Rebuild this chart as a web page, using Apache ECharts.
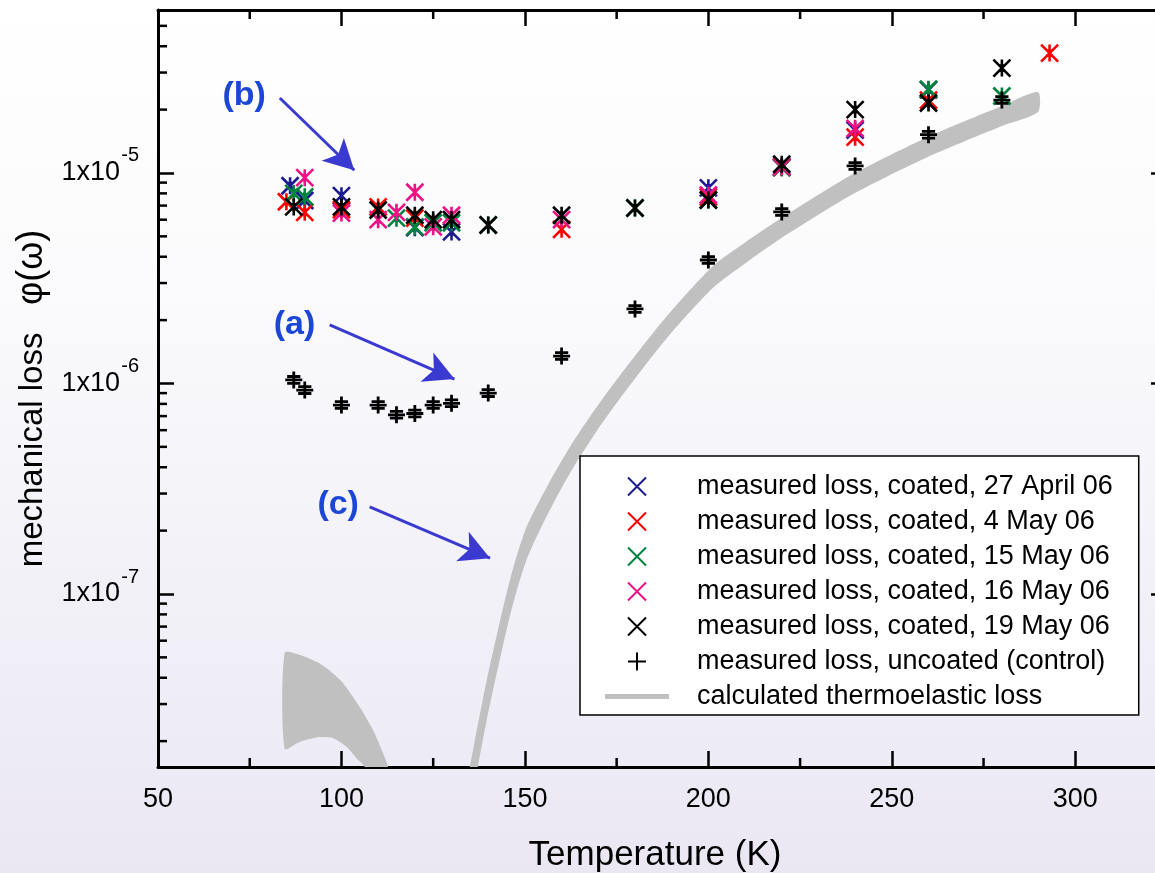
<!DOCTYPE html>
<html>
<head>
<meta charset="utf-8">
<title>Mechanical loss vs temperature</title>
<script src="https://cdn.jsdelivr.net/npm/echarts@6/dist/echarts.min.js"></script>
<style>
  html, body { margin: 0; padding: 0; }
  #chart { width: 1155px; height: 873px; }
</style>
</head>
<body>
<div id="chart"></div>
<script>
var FONT = '"Liberation Sans", Arial, Helvetica, sans-serif';

// measured loss, coated samples: [temperature K, loss]
var coated27Apr = [[86, 8.7e-6], [90, 7.4e-6], [100, 7.8e-6], [120, 5.5e-6], [130, 5.25e-6],
    [200, 8.5e-6], [220, 1.07e-5], [240, 1.6e-5], [260, 2.48e-5]];
var coated4May = [[85, 7.3e-6], [90, 6.5e-6], [100, 6.7e-6], [110, 6.9e-6], [120, 6.1e-6],
    [160, 5.4e-6], [200, 7.7e-6], [220, 1.06e-5], [240, 1.48e-5], [260, 2.22e-5], [293, 3.71e-5]];
var coated15May = [[87, 8.0e-6], [90, 7.7e-6], [115, 6.1e-6], [120, 5.55e-6], [125, 5.8e-6],
    [130, 5.8e-6], [140, 5.66e-6], [180, 6.82e-6], [200, 7.44e-6], [220, 1.06e-5], [260, 2.5e-5], [280, 2.32e-5]];
var coated16May = [[90, 9.5e-6], [100, 6.45e-6], [110, 6.0e-6], [115, 6.5e-6], [120, 8.1e-6],
    [125, 5.55e-6], [130, 6.3e-6], [160, 6.0e-6], [200, 7.86e-6], [220, 1.07e-5], [240, 1.63e-5]];
var coated19May = [[87, 6.9e-6], [100, 6.9e-6], [110, 6.67e-6], [120, 6.3e-6], [125, 6.0e-6],
    [130, 6.0e-6], [140, 5.66e-6], [160, 6.3e-6], [180, 6.82e-6], [200, 7.44e-6], [220, 1.1e-5],
    [240, 2.0e-5], [260, 2.15e-5], [280, 3.15e-5]];
// measured loss, uncoated control
var uncoated = [[87, 1.04e-6], [90, 9.3e-7], [100, 7.9e-7], [110, 7.9e-7], [115, 7.1e-7], [120, 7.2e-7],
    [125, 7.9e-7], [130, 8.05e-7], [140, 9.0e-7], [160, 1.35e-6], [180, 2.26e-6], [200, 3.86e-6],
    [220, 6.53e-6], [240, 1.08e-5], [260, 1.52e-5], [280, 2.22e-5]];

// calculated thermoelastic loss band (upper / lower bound)
var teT    = [134.5, 136.1, 139.6, 142.6, 146.2, 150.3, 156.2, 162.3, 169.4, 175.9, 188.7, 201.2,
    210, 219.9, 227.7, 239.9, 259.8, 280, 289.8];
var teHigh = [1.32e-8, 1.9e-8, 3.9e-8, 6.67e-8, 1.217e-7, 2.05e-7, 3.28e-7, 5.0e-7, 7.66e-7, 1.091e-6,
    2.09e-6, 3.61e-6, 4.68e-6, 6.11e-6, 7.44e-6, 9.99e-6, 1.484e-5, 2.082e-5, 2.424e-5];
var teLow  = [8.3e-9, 1.2e-8, 2.52e-8, 4.41e-8, 8.21e-8, 1.43e-7, 2.39e-7, 3.76e-7, 5.89e-7, 8.48e-7,
    1.644e-6, 2.84e-6, 3.72e-6, 4.91e-6, 5.98e-6, 8.03e-6, 1.192e-5, 1.673e-5, 1.948e-5];
// low temperature part of the band
var teLeftHighT = [84.5, 88.5, 93.3, 97, 100.4, 105.0, 108.6, 111.3, 112.7, 114.5];
var teLeftHigh  = [5.25e-8, 5.15e-8, 4.75e-8, 4.3e-8, 3.78e-8, 2.9e-8, 2.26e-8, 1.76e-8, 1.51e-8, 1.0e-8];
var teLeftLowT  = [84.5, 88.6, 94.1, 97.6, 101.4, 104.1, 106.3, 108];
var teLeftLow   = [1.84e-8, 1.98e-8, 2.09e-8, 2.07e-8, 1.88e-8, 1.66e-8, 1.51e-8, 1.1e-8];

// labels with arrows: text position, arrow start, arrow end
var noteText  = ['(b)', '(a)', '(c)'];
var notePos   = [[73.5, 2.33e-5], [87.2, 1.9e-6], [99.1, 2.65e-7]];
var noteFrom  = [[83.2, 2.27e-5], [96.8, 1.9e-6], [107.7, 2.59e-7]];
var noteTo    = [[103.5, 1.03e-5], [130.8, 1.05e-6], [140.5, 1.48e-7]];

var xMin = 50, xMax = 325, yMin = 1.507e-8, yMax = 5.946e-5;
var xMinorTicks = [75, 125, 175, 225, 275];
var yMinorTicks = [];
[1e-8, 1e-7, 1e-6, 1e-5].forEach(function (d) {
    for (var k = 2; k <= 9; k++) {
        var v = d * k;
        if (v > yMin && v < yMax) yMinorTicks.push(v);
    }
});

var starPath = 'path://M0,0L20,20M20,0L0,20M10,0L10,20M6,7L14,7M6,13L14,13';
var plusPath = 'path://M10,0L10,20M1,10L19,10M3,6L17,6M3,14L17,14';
var crossIcon = 'path://M0,0L20,20M20,0L0,20';
var plusIcon = 'path://M10,0L10,20M0,10L20,10';
var lineIcon = 'path://M0,0L64,0L64,5L0,5Z';

var coatedNames = [
    'measured loss, coated, 27 April 06',
    'measured loss, coated, 4 May 06',
    'measured loss, coated, 15 May 06',
    'measured loss, coated, 16 May 06',
    'measured loss, coated, 19 May 06'
];
var coatedData = [coated27Apr, coated4May, coated15May, coated16May, coated19May];
var coatedColors = ['#1b1b8f', '#ff0000', '#00843d', '#ec1185', '#000000'];
var uncoatedName = 'measured loss, uncoated (control)';
var teName = 'calculated thermoelastic loss';

var myChart = echarts.init(document.getElementById('chart'));

var series = [];

var bands = [
    { hT: teT, h: teHigh, lT: teT, l: teLow },
    { hT: teLeftHighT, h: teLeftHigh, lT: teLeftLowT, l: teLeftLow }
];
series.push({
    name: teName,
    type: 'custom',
    clip: true,
    silent: true,
    z: 1,
    data: [[teT[0], teHigh[0]], [teLeftHighT[0], teLeftHigh[0]]],
    renderItem: function (params, api) {
        var b = bands[params.dataIndex];
        var pts = [];
        for (var i = 0; i < b.hT.length; i++) pts.push(api.coord([b.hT[i], b.h[i]]));
        for (var j = b.lT.length - 1; j >= 0; j--) pts.push(api.coord([b.lT[j], b.l[j]]));
        return {
            type: 'polygon',
            shape: { points: pts, smooth: 0.25 },
            style: { fill: '#c0c0c0' },
            clipPath: {
                type: 'rect',
                shape: { x: params.coordSys.x, y: params.coordSys.y,
                         width: params.coordSys.width, height: params.coordSys.height }
            }
        };
    }
});

coatedData.forEach(function (d, i) {
    series.push({
        name: coatedNames[i],
        type: 'scatter',
        symbol: starPath,
        symbolSize: 17,
        z: 3,
        itemStyle: { color: 'rgba(0,0,0,0)', borderColor: coatedColors[i], borderWidth: 2.6, opacity: 1 },
        emphasis: { disabled: true },
        data: d
    });
});

series.push({
    name: uncoatedName,
    type: 'scatter',
    symbol: plusPath,
    symbolSize: 17,
    z: 4,
    itemStyle: { color: 'rgba(0,0,0,0)', borderColor: '#000', borderWidth: 2.8, opacity: 1 },
    emphasis: { disabled: true },
    data: uncoated
});

// annotations (a), (b), (c)
series.push({
    name: 'notes',
    type: 'scatter',
    symbolSize: 1,
    silent: true,
    z: 5,
    itemStyle: { color: 'rgba(0,0,0,0)', opacity: 1 },
    label: {
        show: true, position: 'inside', formatter: '{b}',
        fontFamily: FONT, fontSize: 34, fontWeight: 'bold', color: '#1b46d6'
    },
    data: noteText.map(function (t, i) { return { name: t, value: notePos[i] }; }),
    markLine: {
        silent: true,
        symbol: ['none', 'arrow'],
        symbolSize: [24, 30],
        label: { show: false },
        lineStyle: { color: '#3a3ad0', width: 3, type: 'solid', opacity: 1 },
        emphasis: { disabled: true },
        data: noteFrom.map(function (f, i) { return [{ coord: f }, { coord: noteTo[i] }]; })
    }
});

// minor ticks of the log axis (left) and of the temperature axis (bottom / top)
series.push({
    type: 'custom', silent: true, z: 6,
    data: yMinorTicks.map(function (v) { return [xMin, v]; }),
    renderItem: function (params, api) {
        var p = api.coord([xMin, api.value(1)]);
        return { type: 'line', shape: { x1: p[0], y1: p[1], x2: p[0] + 9, y2: p[1] },
                 style: { stroke: '#000', lineWidth: 2.5 } };
    }
});
series.push({
    type: 'custom', silent: true, z: 6,
    data: xMinorTicks.map(function (t) { return [t, yMin]; }),
    renderItem: function (params, api) {
        var b = api.coord([api.value(0), yMin]);
        var t = api.coord([api.value(0), yMax]);
        return { type: 'group', children: [
            { type: 'line', shape: { x1: b[0], y1: b[1], x2: b[0], y2: b[1] - 9 }, style: { stroke: '#000', lineWidth: 2.5 } },
            { type: 'line', shape: { x1: t[0], y1: t[1], x2: t[0], y2: t[1] + 9 }, style: { stroke: '#000', lineWidth: 2.5 } }
        ] };
    }
});

var legendData = coatedNames.map(function (n, i) {
    return { name: n, icon: crossIcon,
             itemStyle: { color: 'rgba(0,0,0,0)', borderColor: coatedColors[i], borderWidth: 2, opacity: 1 } };
});
legendData.push({ name: uncoatedName, icon: plusIcon,
                  itemStyle: { color: 'rgba(0,0,0,0)', borderColor: '#000', borderWidth: 2, opacity: 1 } });
legendData.push({ name: teName, icon: lineIcon, itemStyle: { color: '#c0c0c0', borderWidth: 0, opacity: 1 } });

var axisLineStyle = { color: '#000', width: 3 };
function isDecade(v) {
    var e = Math.log10(v);
    return Math.abs(e - Math.round(e)) < 1e-6;
}

option = {
    animation: false,
    backgroundColor: new echarts.graphic.LinearGradient(0, 0, 0, 1, [
        { offset: 0, color: '#ffffff' },
        { offset: 0.35, color: '#fafafc' },
        { offset: 1, color: '#eae7f3' }
    ]),
    grid: { left: 158, top: 10, width: 1009, height: 757, containLabel: false, outerBoundsMode: 'none' },
    legend: {
        orient: 'vertical', left: 580, top: 456,
        padding: [17, 26, 5, 25], itemGap: 8, itemWidth: 64, itemHeight: 18,
        backgroundColor: '#ffffff', borderColor: '#000', borderWidth: 1.5,
        selectedMode: false,
        textStyle: { fontFamily: FONT, fontSize: 27, color: '#000', lineHeight: 27, padding: [0, 0, 0, 23] },
        data: legendData
    },
    xAxis: [{
        type: 'value', position: 'bottom', min: xMin, max: xMax, interval: 50,
        name: 'Temperature (K)', nameLocation: 'middle', nameGap: 71,
        nameTextStyle: { fontFamily: FONT, fontSize: 35, color: '#000', padding: [0, 15, 0, 0] },
        axisLine: { lineStyle: axisLineStyle },
        axisTick: { inside: true, length: 16, lineStyle: { color: '#000', width: 2.5 } },
        axisLabel: {
            fontFamily: FONT, fontSize: 27, color: '#000', margin: 19,
            formatter: function (v) { return v % 50 === 0 && v < xMax ? String(v) : ''; }
        },
        splitLine: { show: false }
    }, {
        type: 'value', position: 'top', min: xMin, max: xMax, interval: 50,
        axisLine: { lineStyle: axisLineStyle },
        axisTick: { inside: true, length: 16, lineStyle: { color: '#000', width: 2.5 } },
        axisLabel: { show: false },
        splitLine: { show: false }
    }],
    yAxis: [{
        type: 'log', position: 'left', min: yMin, max: yMax,
        name: '{a|mechanical loss   }{b|\u03c6(\u03c9)}', nameLocation: 'middle', nameGap: 107, nameRotate: 90,
        nameTextStyle: {
            fontFamily: FONT, fontSize: 33, color: '#000', padding: [0, 20, 0, 0],
            rich: {
                a: { fontFamily: FONT, fontSize: 33, color: '#000' },
                b: { fontFamily: FONT, fontSize: 36, color: '#000' }
            }
        },
        axisLine: { lineStyle: axisLineStyle },
        axisTick: { inside: true, length: 16, lineStyle: { color: '#000', width: 2.5 } },
        axisLabel: {
            margin: 38, fontFamily: FONT, fontSize: 27, color: '#000',
            formatter: function (v) { return isDecade(v) ? '1x10' : ''; }
        },
        splitLine: { show: false }
    }, {
        type: 'log', position: 'right', min: yMin, max: yMax,
        axisLine: { lineStyle: axisLineStyle },
        axisTick: { inside: true, length: 16, lineStyle: { color: '#000', width: 2.5 } },
        axisLabel: { show: false },
        splitLine: { show: false }
    }, {
        // exponent of the decade labels, drawn raised next to "1x10"
        type: 'log', position: 'left', min: yMin, max: yMax,
        axisLine: { show: false },
        axisTick: { show: false },
        axisLabel: {
            margin: 19, fontFamily: FONT, fontSize: 20, color: '#000',
            verticalAlign: 'bottom', padding: [0, 0, 7, 0],
            formatter: function (v) { return isDecade(v) ? String(Math.round(Math.log10(v))) : ''; }
        },
        splitLine: { show: false }
    }],
    series: series
};

myChart.setOption(option);
window.addEventListener('resize', function () {
    myChart.resize();
});
</script>
</body>
</html>
